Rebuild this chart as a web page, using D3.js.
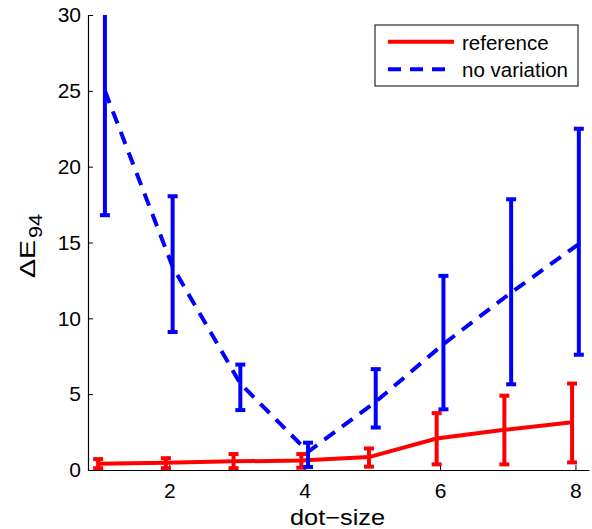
<!DOCTYPE html>
<html>
<head>
<meta charset="utf-8">
<script src="https://cdn.jsdelivr.net/npm/d3@7"></script>
<style>
  body { margin: 0; background: #fff; }
  text { font-family: "Liberation Sans", Arial, sans-serif; fill: #000; }
</style>
</head>
<body>
<div id="chart"></div>
<script>
var dotSizes = [1, 2, 3, 4, 5, 6, 7, 8];

var refMean  = [0.42, 0.47, 0.57, 0.62, 0.85, 2.08, 2.65, 3.15];
var refLow   = [0.12, 0.12, 0.12, 0.15, 0.22, 0.37, 0.37, 0.50];
var refHigh  = [0.72, 0.78, 1.05, 1.05, 1.42, 3.75, 4.90, 5.70];

var noVarMean = [25.0, 13.4, 5.7, 1.2, 4.5, 8.3, 11.7, 14.9];
var noVarLow  = [16.8, 9.1, 3.95, 0.2, 2.8, 4.0, 5.65, 7.6];
var noVarHigh = [33.2, 18.05, 6.95, 1.8, 6.65, 12.8, 17.85, 22.5];

var xTicks = [2, 4, 6, 8];
var yTicks = [0, 5, 10, 15, 20, 25, 30];

var margin = { top: 15, right: 3, bottom: 59, left: 88 },
    width = 592 - margin.left - margin.right,
    height = 529 - margin.top - margin.bottom;

var svg = d3.select("#chart").append("svg")
    .attr("width", 592)
    .attr("height", 529);

var g = svg.append("g")
    .attr("transform", "translate(" + margin.left + "," + margin.top + ")");

var x = d3.scaleLinear().domain([0.8, 8.2]).range([0, width]);
var y = d3.scaleLinear().domain([0, 30]).range([height, 0]);

g.append("clipPath").attr("id", "clip")
  .append("rect").attr("width", width).attr("height", height);

// axes
var xAxis = g.append("g")
    .attr("transform", "translate(0," + height + ")")
    .call(d3.axisBottom(x).tickValues(xTicks).tickSizeInner(-5).tickSizeOuter(0).tickPadding(13));
var yAxis = g.append("g")
    .call(d3.axisLeft(y).tickValues(yTicks).tickSizeInner(-5).tickSizeOuter(0).tickPadding(7));

[xAxis, yAxis].forEach(a => {
  a.attr("font-size", 21);
  a.select(".domain").attr("stroke", "#000").attr("stroke-width", 1.2);
  a.selectAll(".tick line").attr("stroke", "#000").attr("stroke-width", 1);
  a.selectAll(".tick text").attr("font-size", 21).style("font-family", "Liberation Sans, Arial, sans-serif");
});

var series = [
  { name: "reference", color: "#ff0000", dash: null, off: -0.05, mean: refMean, lo: refLow, hi: refHigh },
  { name: "no variation", color: "#0000ff", dash: "13,9", off: 0.05, mean: noVarMean, lo: noVarLow, hi: noVarHigh }
];

var plot = g.append("g").attr("clip-path", "url(#clip)");
var capW = 5;

series.forEach(s => {
  var pts = dotSizes.map((d, i) => ({ x: d + s.off, m: s.mean[i], lo: s.lo[i], hi: s.hi[i] }));

  plot.append("path")
    .datum(pts)
    .attr("fill", "none")
    .attr("stroke", s.color)
    .attr("stroke-width", 4)
    .attr("stroke-dasharray", s.dash)
    .attr("d", d3.line().x(d => x(d.x)).y(d => y(d.m)));

  var bars = plot.append("g").selectAll("g").data(pts).enter().append("g")
    .attr("stroke", s.color).attr("stroke-width", 4);
  bars.append("line")
    .attr("x1", d => x(d.x)).attr("x2", d => x(d.x))
    .attr("y1", d => y(d.lo)).attr("y2", d => y(d.hi));
  bars.append("line")
    .attr("x1", d => x(d.x) - capW).attr("x2", d => x(d.x) + capW)
    .attr("y1", d => y(d.lo)).attr("y2", d => y(d.lo));
  bars.append("line")
    .attr("x1", d => x(d.x) - capW).attr("x2", d => x(d.x) + capW)
    .attr("y1", d => y(d.hi)).attr("y2", d => y(d.hi));
});

// axis labels
svg.append("text")
  .attr("x", 290)
  .attr("y", 525)
  .attr("font-size", 22)
  .attr("textLength", 95)
  .attr("lengthAdjust", "spacingAndGlyphs")
  .text("dot\u2212size");

var yl = svg.append("g")
  .attr("transform", "translate(35,278) rotate(-90)");
yl.append("text")
  .attr("x", 0).attr("y", 0)
  .attr("font-size", 22)
  .attr("textLength", 38)
  .attr("lengthAdjust", "spacingAndGlyphs")
  .text("\u0394E");
yl.append("text")
  .attr("x", 40).attr("y", 7)
  .attr("font-size", 19)
  .attr("textLength", 24)
  .attr("lengthAdjust", "spacingAndGlyphs")
  .text("94");

// legend
var lg = svg.append("g").attr("transform", "translate(375,25)");
lg.append("rect").attr("width", 203).attr("height", 61)
  .attr("fill", "#fff").attr("stroke", "#000").attr("stroke-width", 1);
series.forEach((s, i) => {
  var ly = 16.7 + i * 27.6;
  lg.append("line")
    .attr("x1", 13).attr("x2", 79).attr("y1", ly).attr("y2", ly)
    .attr("stroke", s.color).attr("stroke-width", 4)
    .attr("stroke-dasharray", s.dash);
  lg.append("text")
    .attr("x", 87).attr("y", ly + 8)
    .attr("font-size", 20.5)
    .text(s.name);
});
</script>
</body>
</html>
